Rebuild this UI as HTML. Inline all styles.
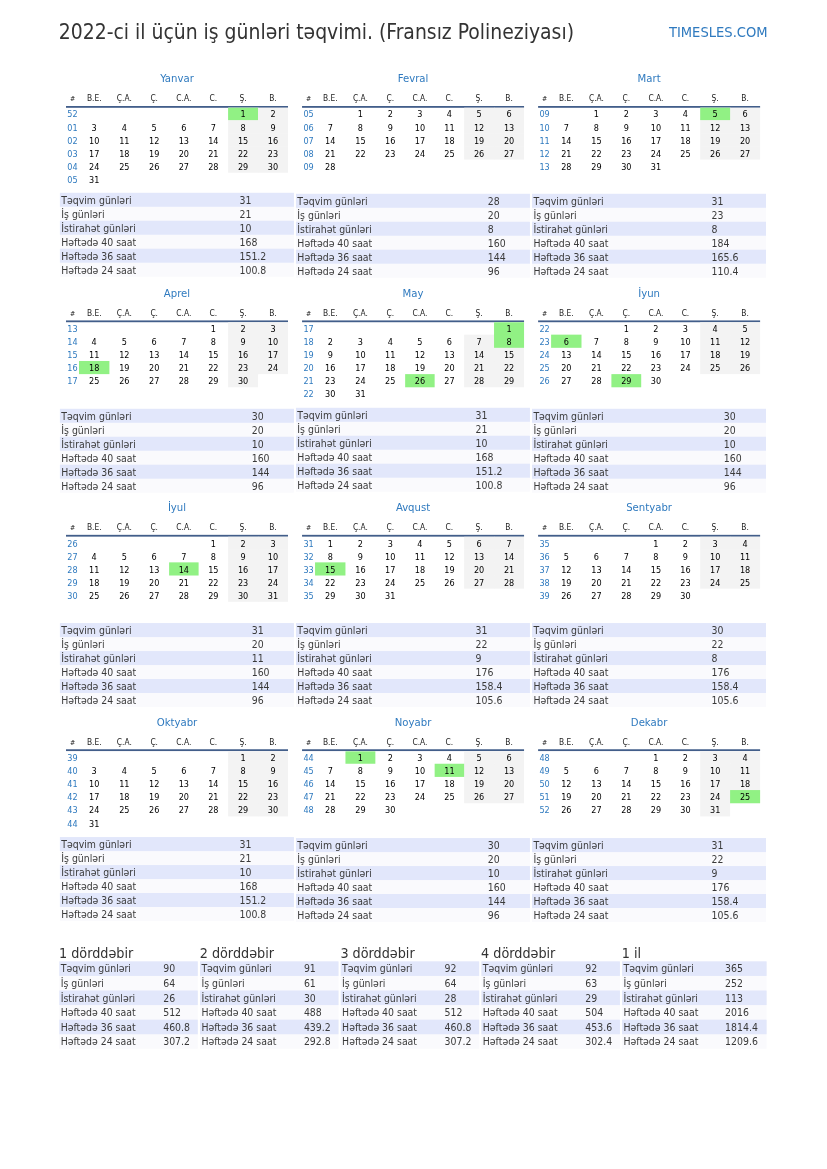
<!DOCTYPE html>
<html lang="az"><head><meta charset="utf-8"><title>2022-ci il üçün iş günləri təqvimi</title>
<style>
html,body{margin:0;padding:0;background:#fff}
body{width:827px;height:1169px;position:relative;overflow:hidden;font-family:"DejaVu Sans Condensed","DejaVu Sans","Liberation Sans",sans-serif;font-stretch:condensed;color:#000}
#pg{position:absolute;left:0;top:0;width:827px;height:1169px;will-change:transform}
svg{position:absolute;left:0;top:0}
.t{position:absolute;white-space:nowrap;height:20px;line-height:20px}
.c{text-align:center}
.title{font-size:20.93px;color:#333}
.brand{font-size:14.58px;color:#2f7abf}
.mt{font-size:11.25px;color:#2f7abf}
.hd{font-size:8.33px;color:#222}
.hs{font-size:6.94px;color:#222}
.wn{font-size:9.03px;color:#2f7abf}
.dn{font-size:9.03px;color:#000}
.st{font-size:10.42px;color:#3a3a3a}
.qh{font-size:14.24px;color:#333}
</style></head>
<body>
<div id="pg">
<svg width="827" height="1169" viewBox="0 0 827 1169"><rect x="66" y="106" width="222" height="1.8" fill="#425e8a"/><rect x="228.1" y="107.7" width="30.3" height="12.8" fill="#f3f3f3"/><rect x="258" y="107.7" width="30" height="12.8" fill="#f3f3f3"/><rect x="228.1" y="120.1" width="30.3" height="13.56" fill="#f3f3f3"/><rect x="258" y="120.1" width="30" height="13.56" fill="#f3f3f3"/><rect x="228.1" y="133.26" width="30.3" height="13.56" fill="#f3f3f3"/><rect x="258" y="133.26" width="30" height="13.56" fill="#f3f3f3"/><rect x="228.1" y="146.42" width="30.3" height="13.56" fill="#f3f3f3"/><rect x="258" y="146.42" width="30" height="13.56" fill="#f3f3f3"/><rect x="228.1" y="159.58" width="30.3" height="13.16" fill="#f3f3f3"/><rect x="258" y="159.58" width="30" height="13.16" fill="#f3f3f3"/><rect x="59.9" y="192.8" width="234" height="83.88" fill="#fafafd"/><rect x="59.9" y="192.8" width="234" height="13.98" fill="#e2e7fb"/><rect x="59.9" y="220.76" width="234" height="13.98" fill="#e2e7fb"/><rect x="59.9" y="248.72" width="234" height="13.98" fill="#e2e7fb"/><rect x="302.05" y="106" width="222" height="1.8" fill="#425e8a"/><rect x="464.15" y="107.7" width="30.3" height="12.8" fill="#f3f3f3"/><rect x="494.05" y="107.7" width="30" height="12.8" fill="#f3f3f3"/><rect x="464.15" y="120.1" width="30.3" height="13.56" fill="#f3f3f3"/><rect x="494.05" y="120.1" width="30" height="13.56" fill="#f3f3f3"/><rect x="464.15" y="133.26" width="30.3" height="13.56" fill="#f3f3f3"/><rect x="494.05" y="133.26" width="30" height="13.56" fill="#f3f3f3"/><rect x="464.15" y="146.42" width="30.3" height="13.16" fill="#f3f3f3"/><rect x="494.05" y="146.42" width="30" height="13.16" fill="#f3f3f3"/><rect x="295.95" y="193.8" width="234" height="83.88" fill="#fafafd"/><rect x="295.95" y="193.8" width="234" height="13.98" fill="#e2e7fb"/><rect x="295.95" y="221.76" width="234" height="13.98" fill="#e2e7fb"/><rect x="295.95" y="249.72" width="234" height="13.98" fill="#e2e7fb"/><rect x="538.1" y="106" width="222" height="1.8" fill="#425e8a"/><rect x="700.2" y="107.7" width="30.3" height="12.8" fill="#f3f3f3"/><rect x="730.1" y="107.7" width="30" height="12.8" fill="#f3f3f3"/><rect x="700.2" y="120.1" width="30.3" height="13.56" fill="#f3f3f3"/><rect x="730.1" y="120.1" width="30" height="13.56" fill="#f3f3f3"/><rect x="700.2" y="133.26" width="30.3" height="13.56" fill="#f3f3f3"/><rect x="730.1" y="133.26" width="30" height="13.56" fill="#f3f3f3"/><rect x="700.2" y="146.42" width="30.3" height="13.16" fill="#f3f3f3"/><rect x="730.1" y="146.42" width="30" height="13.16" fill="#f3f3f3"/><rect x="532" y="193.8" width="234" height="83.88" fill="#fafafd"/><rect x="532" y="193.8" width="234" height="13.98" fill="#e2e7fb"/><rect x="532" y="221.76" width="234" height="13.98" fill="#e2e7fb"/><rect x="532" y="249.72" width="234" height="13.98" fill="#e2e7fb"/><rect x="66" y="320.42" width="222" height="1.8" fill="#425e8a"/><rect x="228.1" y="322.25" width="30.3" height="12.8" fill="#f3f3f3"/><rect x="258" y="322.25" width="30" height="12.8" fill="#f3f3f3"/><rect x="228.1" y="334.65" width="30.3" height="13.56" fill="#f3f3f3"/><rect x="258" y="334.65" width="30" height="13.56" fill="#f3f3f3"/><rect x="228.1" y="347.81" width="30.3" height="13.56" fill="#f3f3f3"/><rect x="258" y="347.81" width="30" height="13.56" fill="#f3f3f3"/><rect x="228.1" y="360.97" width="30.3" height="13.56" fill="#f3f3f3"/><rect x="258" y="360.97" width="30" height="13.16" fill="#f3f3f3"/><rect x="228.1" y="374.13" width="29.9" height="13.16" fill="#f3f3f3"/><rect x="59.9" y="408.8" width="234" height="83.88" fill="#fafafd"/><rect x="59.9" y="408.8" width="234" height="13.98" fill="#e2e7fb"/><rect x="59.9" y="436.76" width="234" height="13.98" fill="#e2e7fb"/><rect x="59.9" y="464.72" width="234" height="13.98" fill="#e2e7fb"/><rect x="302.05" y="320.42" width="222" height="1.8" fill="#425e8a"/><rect x="494.05" y="322.25" width="30" height="12.8" fill="#f3f3f3"/><rect x="464.15" y="334.65" width="30.3" height="13.56" fill="#f3f3f3"/><rect x="494.05" y="334.65" width="30" height="13.56" fill="#f3f3f3"/><rect x="464.15" y="347.81" width="30.3" height="13.56" fill="#f3f3f3"/><rect x="494.05" y="347.81" width="30" height="13.56" fill="#f3f3f3"/><rect x="464.15" y="360.97" width="30.3" height="13.56" fill="#f3f3f3"/><rect x="494.05" y="360.97" width="30" height="13.56" fill="#f3f3f3"/><rect x="464.15" y="374.13" width="30.3" height="13.16" fill="#f3f3f3"/><rect x="494.05" y="374.13" width="30" height="13.16" fill="#f3f3f3"/><rect x="295.95" y="407.8" width="234" height="83.88" fill="#fafafd"/><rect x="295.95" y="407.8" width="234" height="13.98" fill="#e2e7fb"/><rect x="295.95" y="435.76" width="234" height="13.98" fill="#e2e7fb"/><rect x="295.95" y="463.72" width="234" height="13.98" fill="#e2e7fb"/><rect x="538.1" y="320.42" width="222" height="1.8" fill="#425e8a"/><rect x="700.2" y="322.25" width="30.3" height="12.8" fill="#f3f3f3"/><rect x="730.1" y="322.25" width="30" height="12.8" fill="#f3f3f3"/><rect x="700.2" y="334.65" width="30.3" height="13.56" fill="#f3f3f3"/><rect x="730.1" y="334.65" width="30" height="13.56" fill="#f3f3f3"/><rect x="700.2" y="347.81" width="30.3" height="13.56" fill="#f3f3f3"/><rect x="730.1" y="347.81" width="30" height="13.56" fill="#f3f3f3"/><rect x="700.2" y="360.97" width="30.3" height="13.16" fill="#f3f3f3"/><rect x="730.1" y="360.97" width="30" height="13.16" fill="#f3f3f3"/><rect x="532" y="408.8" width="234" height="83.88" fill="#fafafd"/><rect x="532" y="408.8" width="234" height="13.98" fill="#e2e7fb"/><rect x="532" y="436.76" width="234" height="13.98" fill="#e2e7fb"/><rect x="532" y="464.72" width="234" height="13.98" fill="#e2e7fb"/><rect x="66" y="534.84" width="222" height="1.8" fill="#425e8a"/><rect x="228.1" y="536.8" width="30.3" height="12.8" fill="#f3f3f3"/><rect x="258" y="536.8" width="30" height="12.8" fill="#f3f3f3"/><rect x="228.1" y="549.2" width="30.3" height="13.56" fill="#f3f3f3"/><rect x="258" y="549.2" width="30" height="13.56" fill="#f3f3f3"/><rect x="228.1" y="562.36" width="30.3" height="13.56" fill="#f3f3f3"/><rect x="258" y="562.36" width="30" height="13.56" fill="#f3f3f3"/><rect x="228.1" y="575.52" width="30.3" height="13.56" fill="#f3f3f3"/><rect x="258" y="575.52" width="30" height="13.56" fill="#f3f3f3"/><rect x="228.1" y="588.68" width="30.3" height="13.16" fill="#f3f3f3"/><rect x="258" y="588.68" width="30" height="13.16" fill="#f3f3f3"/><rect x="59.9" y="623.1" width="234" height="83.88" fill="#fafafd"/><rect x="59.9" y="623.1" width="234" height="13.98" fill="#e2e7fb"/><rect x="59.9" y="651.06" width="234" height="13.98" fill="#e2e7fb"/><rect x="59.9" y="679.02" width="234" height="13.98" fill="#e2e7fb"/><rect x="302.05" y="534.84" width="222" height="1.8" fill="#425e8a"/><rect x="464.15" y="536.8" width="30.3" height="12.8" fill="#f3f3f3"/><rect x="494.05" y="536.8" width="30" height="12.8" fill="#f3f3f3"/><rect x="464.15" y="549.2" width="30.3" height="13.56" fill="#f3f3f3"/><rect x="494.05" y="549.2" width="30" height="13.56" fill="#f3f3f3"/><rect x="464.15" y="562.36" width="30.3" height="13.56" fill="#f3f3f3"/><rect x="494.05" y="562.36" width="30" height="13.56" fill="#f3f3f3"/><rect x="464.15" y="575.52" width="30.3" height="13.16" fill="#f3f3f3"/><rect x="494.05" y="575.52" width="30" height="13.16" fill="#f3f3f3"/><rect x="295.95" y="623.1" width="234" height="83.88" fill="#fafafd"/><rect x="295.95" y="623.1" width="234" height="13.98" fill="#e2e7fb"/><rect x="295.95" y="651.06" width="234" height="13.98" fill="#e2e7fb"/><rect x="295.95" y="679.02" width="234" height="13.98" fill="#e2e7fb"/><rect x="538.1" y="534.84" width="222" height="1.8" fill="#425e8a"/><rect x="700.2" y="536.8" width="30.3" height="12.8" fill="#f3f3f3"/><rect x="730.1" y="536.8" width="30" height="12.8" fill="#f3f3f3"/><rect x="700.2" y="549.2" width="30.3" height="13.56" fill="#f3f3f3"/><rect x="730.1" y="549.2" width="30" height="13.56" fill="#f3f3f3"/><rect x="700.2" y="562.36" width="30.3" height="13.56" fill="#f3f3f3"/><rect x="730.1" y="562.36" width="30" height="13.56" fill="#f3f3f3"/><rect x="700.2" y="575.52" width="30.3" height="13.16" fill="#f3f3f3"/><rect x="730.1" y="575.52" width="30" height="13.16" fill="#f3f3f3"/><rect x="532" y="623.1" width="234" height="83.88" fill="#fafafd"/><rect x="532" y="623.1" width="234" height="13.98" fill="#e2e7fb"/><rect x="532" y="651.06" width="234" height="13.98" fill="#e2e7fb"/><rect x="532" y="679.02" width="234" height="13.98" fill="#e2e7fb"/><rect x="66" y="749.26" width="222" height="1.8" fill="#425e8a"/><rect x="228.1" y="751.35" width="30.3" height="12.8" fill="#f3f3f3"/><rect x="258" y="751.35" width="30" height="12.8" fill="#f3f3f3"/><rect x="228.1" y="763.75" width="30.3" height="13.56" fill="#f3f3f3"/><rect x="258" y="763.75" width="30" height="13.56" fill="#f3f3f3"/><rect x="228.1" y="776.91" width="30.3" height="13.56" fill="#f3f3f3"/><rect x="258" y="776.91" width="30" height="13.56" fill="#f3f3f3"/><rect x="228.1" y="790.07" width="30.3" height="13.56" fill="#f3f3f3"/><rect x="258" y="790.07" width="30" height="13.56" fill="#f3f3f3"/><rect x="228.1" y="803.23" width="30.3" height="13.16" fill="#f3f3f3"/><rect x="258" y="803.23" width="30" height="13.16" fill="#f3f3f3"/><rect x="59.9" y="837.1" width="234" height="83.88" fill="#fafafd"/><rect x="59.9" y="837.1" width="234" height="13.98" fill="#e2e7fb"/><rect x="59.9" y="865.06" width="234" height="13.98" fill="#e2e7fb"/><rect x="59.9" y="893.02" width="234" height="13.98" fill="#e2e7fb"/><rect x="302.05" y="749.26" width="222" height="1.8" fill="#425e8a"/><rect x="464.15" y="751.35" width="30.3" height="12.8" fill="#f3f3f3"/><rect x="494.05" y="751.35" width="30" height="12.8" fill="#f3f3f3"/><rect x="464.15" y="763.75" width="30.3" height="13.56" fill="#f3f3f3"/><rect x="494.05" y="763.75" width="30" height="13.56" fill="#f3f3f3"/><rect x="464.15" y="776.91" width="30.3" height="13.56" fill="#f3f3f3"/><rect x="494.05" y="776.91" width="30" height="13.56" fill="#f3f3f3"/><rect x="464.15" y="790.07" width="30.3" height="13.16" fill="#f3f3f3"/><rect x="494.05" y="790.07" width="30" height="13.16" fill="#f3f3f3"/><rect x="295.95" y="838.1" width="234" height="83.88" fill="#fafafd"/><rect x="295.95" y="838.1" width="234" height="13.98" fill="#e2e7fb"/><rect x="295.95" y="866.06" width="234" height="13.98" fill="#e2e7fb"/><rect x="295.95" y="894.02" width="234" height="13.98" fill="#e2e7fb"/><rect x="538.1" y="749.26" width="222" height="1.8" fill="#425e8a"/><rect x="700.2" y="751.35" width="30.3" height="12.8" fill="#f3f3f3"/><rect x="730.1" y="751.35" width="30" height="12.8" fill="#f3f3f3"/><rect x="700.2" y="763.75" width="30.3" height="13.56" fill="#f3f3f3"/><rect x="730.1" y="763.75" width="30" height="13.56" fill="#f3f3f3"/><rect x="700.2" y="776.91" width="30.3" height="13.56" fill="#f3f3f3"/><rect x="730.1" y="776.91" width="30" height="13.56" fill="#f3f3f3"/><rect x="700.2" y="790.07" width="30.3" height="13.56" fill="#f3f3f3"/><rect x="730.1" y="790.07" width="30" height="13.16" fill="#f3f3f3"/><rect x="700.2" y="803.23" width="29.9" height="13.16" fill="#f3f3f3"/><rect x="532" y="838.1" width="234" height="83.88" fill="#fafafd"/><rect x="532" y="838.1" width="234" height="13.98" fill="#e2e7fb"/><rect x="532" y="866.06" width="234" height="13.98" fill="#e2e7fb"/><rect x="532" y="894.02" width="234" height="13.98" fill="#e2e7fb"/><rect x="228.1" y="107.7" width="29.9" height="12.4" fill="#91f184"/><rect x="700.2" y="107.7" width="29.9" height="12.4" fill="#91f184"/><rect x="79" y="360.97" width="30.4" height="13.16" fill="#91f184"/><rect x="494.05" y="322.25" width="30" height="12.8" fill="#91f184"/><rect x="494.05" y="334.65" width="30" height="13.16" fill="#91f184"/><rect x="405.15" y="374.13" width="29.5" height="13.16" fill="#91f184"/><rect x="551.1" y="334.65" width="30.4" height="13.16" fill="#91f184"/><rect x="611.4" y="374.13" width="29.8" height="13.16" fill="#91f184"/><rect x="169.1" y="562.36" width="29.5" height="13.16" fill="#91f184"/><rect x="315.05" y="562.36" width="30.4" height="13.16" fill="#91f184"/><rect x="345.45" y="751.35" width="29.9" height="12.4" fill="#91f184"/><rect x="434.65" y="763.75" width="29.5" height="13.16" fill="#91f184"/><rect x="730.1" y="790.07" width="30" height="13.16" fill="#91f184"/><rect x="59.3" y="961.35" width="138.5" height="87.48" fill="#fafafd"/><rect x="59.3" y="961.35" width="138.5" height="14.58" fill="#e2e7fb"/><rect x="59.3" y="990.51" width="138.5" height="14.58" fill="#e2e7fb"/><rect x="59.3" y="1019.67" width="138.5" height="14.58" fill="#e2e7fb"/><rect x="200" y="961.35" width="138.5" height="87.48" fill="#fafafd"/><rect x="200" y="961.35" width="138.5" height="14.58" fill="#e2e7fb"/><rect x="200" y="990.51" width="138.5" height="14.58" fill="#e2e7fb"/><rect x="200" y="1019.67" width="138.5" height="14.58" fill="#e2e7fb"/><rect x="340.7" y="961.35" width="138.5" height="87.48" fill="#fafafd"/><rect x="340.7" y="961.35" width="138.5" height="14.58" fill="#e2e7fb"/><rect x="340.7" y="990.51" width="138.5" height="14.58" fill="#e2e7fb"/><rect x="340.7" y="1019.67" width="138.5" height="14.58" fill="#e2e7fb"/><rect x="481.4" y="961.35" width="138.5" height="87.48" fill="#fafafd"/><rect x="481.4" y="961.35" width="138.5" height="14.58" fill="#e2e7fb"/><rect x="481.4" y="990.51" width="138.5" height="14.58" fill="#e2e7fb"/><rect x="481.4" y="1019.67" width="138.5" height="14.58" fill="#e2e7fb"/><rect x="622.1" y="961.35" width="144.5" height="87.48" fill="#fafafd"/><rect x="622.1" y="961.35" width="144.5" height="14.58" fill="#e2e7fb"/><rect x="622.1" y="990.51" width="144.5" height="14.58" fill="#e2e7fb"/><rect x="622.1" y="1019.67" width="144.5" height="14.58" fill="#e2e7fb"/></svg>
<div class="t title" style="left:58.8px;top:22px">2022-ci il üçün iş günləri təqvimi. (Fransız Polineziyası)</div>
<div class="t brand" style="right:59.4px;top:22px">TIMESLES.COM</div>
<div class="t c mt" style="left:66px;top:69px;width:222px">Yanvar</div>
<div class="t c hs" style="left:66px;top:89px;width:13px">#</div>
<div class="t c hd" style="left:79px;top:88px;width:30.4px">B.E.</div>
<div class="t c hd" style="left:109.4px;top:88px;width:29.9px">Ç.A.</div>
<div class="t c hd" style="left:139.3px;top:88px;width:29.8px">Ç.</div>
<div class="t c hd" style="left:169.1px;top:88px;width:29.5px">C.A.</div>
<div class="t c hd" style="left:198.6px;top:88px;width:29.5px">C.</div>
<div class="t c hd" style="left:228.1px;top:88px;width:29.9px">Ş.</div>
<div class="t c hd" style="left:258px;top:88px;width:30px">B.</div>
<div class="t c wn" style="left:66px;top:104px;width:13px">52</div>
<div class="t c dn" style="left:228.1px;top:104px;width:29.9px">1</div>
<div class="t c dn" style="left:258px;top:104px;width:30px">2</div>
<div class="t c wn" style="left:66px;top:118px;width:13px">01</div>
<div class="t c dn" style="left:79px;top:118px;width:30.4px">3</div>
<div class="t c dn" style="left:109.4px;top:118px;width:29.9px">4</div>
<div class="t c dn" style="left:139.3px;top:118px;width:29.8px">5</div>
<div class="t c dn" style="left:169.1px;top:118px;width:29.5px">6</div>
<div class="t c dn" style="left:198.6px;top:118px;width:29.5px">7</div>
<div class="t c dn" style="left:228.1px;top:118px;width:29.9px">8</div>
<div class="t c dn" style="left:258px;top:118px;width:30px">9</div>
<div class="t c wn" style="left:66px;top:131px;width:13px">02</div>
<div class="t c dn" style="left:79px;top:131px;width:30.4px">10</div>
<div class="t c dn" style="left:109.4px;top:131px;width:29.9px">11</div>
<div class="t c dn" style="left:139.3px;top:131px;width:29.8px">12</div>
<div class="t c dn" style="left:169.1px;top:131px;width:29.5px">13</div>
<div class="t c dn" style="left:198.6px;top:131px;width:29.5px">14</div>
<div class="t c dn" style="left:228.1px;top:131px;width:29.9px">15</div>
<div class="t c dn" style="left:258px;top:131px;width:30px">16</div>
<div class="t c wn" style="left:66px;top:144px;width:13px">03</div>
<div class="t c dn" style="left:79px;top:144px;width:30.4px">17</div>
<div class="t c dn" style="left:109.4px;top:144px;width:29.9px">18</div>
<div class="t c dn" style="left:139.3px;top:144px;width:29.8px">19</div>
<div class="t c dn" style="left:169.1px;top:144px;width:29.5px">20</div>
<div class="t c dn" style="left:198.6px;top:144px;width:29.5px">21</div>
<div class="t c dn" style="left:228.1px;top:144px;width:29.9px">22</div>
<div class="t c dn" style="left:258px;top:144px;width:30px">23</div>
<div class="t c wn" style="left:66px;top:157px;width:13px">04</div>
<div class="t c dn" style="left:79px;top:157px;width:30.4px">24</div>
<div class="t c dn" style="left:109.4px;top:157px;width:29.9px">25</div>
<div class="t c dn" style="left:139.3px;top:157px;width:29.8px">26</div>
<div class="t c dn" style="left:169.1px;top:157px;width:29.5px">27</div>
<div class="t c dn" style="left:198.6px;top:157px;width:29.5px">28</div>
<div class="t c dn" style="left:228.1px;top:157px;width:29.9px">29</div>
<div class="t c dn" style="left:258px;top:157px;width:30px">30</div>
<div class="t c wn" style="left:66px;top:170px;width:13px">05</div>
<div class="t c dn" style="left:79px;top:170px;width:30.4px">31</div>
<div class="t st" style="left:61.3px;top:190px">Təqvim günləri</div>
<div class="t st" style="left:239.5px;top:190px">31</div>
<div class="t st" style="left:61.3px;top:204px">İş günləri</div>
<div class="t st" style="left:239.5px;top:204px">21</div>
<div class="t st" style="left:61.3px;top:218px">İstirahət günləri</div>
<div class="t st" style="left:239.5px;top:218px">10</div>
<div class="t st" style="left:61.3px;top:232px">Həftədə 40 saat</div>
<div class="t st" style="left:239.5px;top:232px">168</div>
<div class="t st" style="left:61.3px;top:246px">Həftədə 36 saat</div>
<div class="t st" style="left:239.5px;top:246px">151.2</div>
<div class="t st" style="left:61.3px;top:260px">Həftədə 24 saat</div>
<div class="t st" style="left:239.5px;top:260px">100.8</div>
<div class="t c mt" style="left:302.05px;top:69px;width:222px">Fevral</div>
<div class="t c hs" style="left:302.05px;top:89px;width:13px">#</div>
<div class="t c hd" style="left:315.05px;top:88px;width:30.4px">B.E.</div>
<div class="t c hd" style="left:345.45px;top:88px;width:29.9px">Ç.A.</div>
<div class="t c hd" style="left:375.35px;top:88px;width:29.8px">Ç.</div>
<div class="t c hd" style="left:405.15px;top:88px;width:29.5px">C.A.</div>
<div class="t c hd" style="left:434.65px;top:88px;width:29.5px">C.</div>
<div class="t c hd" style="left:464.15px;top:88px;width:29.9px">Ş.</div>
<div class="t c hd" style="left:494.05px;top:88px;width:30px">B.</div>
<div class="t c wn" style="left:302.05px;top:104px;width:13px">05</div>
<div class="t c dn" style="left:345.45px;top:104px;width:29.9px">1</div>
<div class="t c dn" style="left:375.35px;top:104px;width:29.8px">2</div>
<div class="t c dn" style="left:405.15px;top:104px;width:29.5px">3</div>
<div class="t c dn" style="left:434.65px;top:104px;width:29.5px">4</div>
<div class="t c dn" style="left:464.15px;top:104px;width:29.9px">5</div>
<div class="t c dn" style="left:494.05px;top:104px;width:30px">6</div>
<div class="t c wn" style="left:302.05px;top:118px;width:13px">06</div>
<div class="t c dn" style="left:315.05px;top:118px;width:30.4px">7</div>
<div class="t c dn" style="left:345.45px;top:118px;width:29.9px">8</div>
<div class="t c dn" style="left:375.35px;top:118px;width:29.8px">9</div>
<div class="t c dn" style="left:405.15px;top:118px;width:29.5px">10</div>
<div class="t c dn" style="left:434.65px;top:118px;width:29.5px">11</div>
<div class="t c dn" style="left:464.15px;top:118px;width:29.9px">12</div>
<div class="t c dn" style="left:494.05px;top:118px;width:30px">13</div>
<div class="t c wn" style="left:302.05px;top:131px;width:13px">07</div>
<div class="t c dn" style="left:315.05px;top:131px;width:30.4px">14</div>
<div class="t c dn" style="left:345.45px;top:131px;width:29.9px">15</div>
<div class="t c dn" style="left:375.35px;top:131px;width:29.8px">16</div>
<div class="t c dn" style="left:405.15px;top:131px;width:29.5px">17</div>
<div class="t c dn" style="left:434.65px;top:131px;width:29.5px">18</div>
<div class="t c dn" style="left:464.15px;top:131px;width:29.9px">19</div>
<div class="t c dn" style="left:494.05px;top:131px;width:30px">20</div>
<div class="t c wn" style="left:302.05px;top:144px;width:13px">08</div>
<div class="t c dn" style="left:315.05px;top:144px;width:30.4px">21</div>
<div class="t c dn" style="left:345.45px;top:144px;width:29.9px">22</div>
<div class="t c dn" style="left:375.35px;top:144px;width:29.8px">23</div>
<div class="t c dn" style="left:405.15px;top:144px;width:29.5px">24</div>
<div class="t c dn" style="left:434.65px;top:144px;width:29.5px">25</div>
<div class="t c dn" style="left:464.15px;top:144px;width:29.9px">26</div>
<div class="t c dn" style="left:494.05px;top:144px;width:30px">27</div>
<div class="t c wn" style="left:302.05px;top:157px;width:13px">09</div>
<div class="t c dn" style="left:315.05px;top:157px;width:30.4px">28</div>
<div class="t st" style="left:297.35px;top:191px">Təqvim günləri</div>
<div class="t st" style="left:487.75px;top:191px">28</div>
<div class="t st" style="left:297.35px;top:205px">İş günləri</div>
<div class="t st" style="left:487.75px;top:205px">20</div>
<div class="t st" style="left:297.35px;top:219px">İstirahət günləri</div>
<div class="t st" style="left:487.75px;top:219px">8</div>
<div class="t st" style="left:297.35px;top:233px">Həftədə 40 saat</div>
<div class="t st" style="left:487.75px;top:233px">160</div>
<div class="t st" style="left:297.35px;top:247px">Həftədə 36 saat</div>
<div class="t st" style="left:487.75px;top:247px">144</div>
<div class="t st" style="left:297.35px;top:261px">Həftədə 24 saat</div>
<div class="t st" style="left:487.75px;top:261px">96</div>
<div class="t c mt" style="left:538.1px;top:69px;width:222px">Mart</div>
<div class="t c hs" style="left:538.1px;top:89px;width:13px">#</div>
<div class="t c hd" style="left:551.1px;top:88px;width:30.4px">B.E.</div>
<div class="t c hd" style="left:581.5px;top:88px;width:29.9px">Ç.A.</div>
<div class="t c hd" style="left:611.4px;top:88px;width:29.8px">Ç.</div>
<div class="t c hd" style="left:641.2px;top:88px;width:29.5px">C.A.</div>
<div class="t c hd" style="left:670.7px;top:88px;width:29.5px">C.</div>
<div class="t c hd" style="left:700.2px;top:88px;width:29.9px">Ş.</div>
<div class="t c hd" style="left:730.1px;top:88px;width:30px">B.</div>
<div class="t c wn" style="left:538.1px;top:104px;width:13px">09</div>
<div class="t c dn" style="left:581.5px;top:104px;width:29.9px">1</div>
<div class="t c dn" style="left:611.4px;top:104px;width:29.8px">2</div>
<div class="t c dn" style="left:641.2px;top:104px;width:29.5px">3</div>
<div class="t c dn" style="left:670.7px;top:104px;width:29.5px">4</div>
<div class="t c dn" style="left:700.2px;top:104px;width:29.9px">5</div>
<div class="t c dn" style="left:730.1px;top:104px;width:30px">6</div>
<div class="t c wn" style="left:538.1px;top:118px;width:13px">10</div>
<div class="t c dn" style="left:551.1px;top:118px;width:30.4px">7</div>
<div class="t c dn" style="left:581.5px;top:118px;width:29.9px">8</div>
<div class="t c dn" style="left:611.4px;top:118px;width:29.8px">9</div>
<div class="t c dn" style="left:641.2px;top:118px;width:29.5px">10</div>
<div class="t c dn" style="left:670.7px;top:118px;width:29.5px">11</div>
<div class="t c dn" style="left:700.2px;top:118px;width:29.9px">12</div>
<div class="t c dn" style="left:730.1px;top:118px;width:30px">13</div>
<div class="t c wn" style="left:538.1px;top:131px;width:13px">11</div>
<div class="t c dn" style="left:551.1px;top:131px;width:30.4px">14</div>
<div class="t c dn" style="left:581.5px;top:131px;width:29.9px">15</div>
<div class="t c dn" style="left:611.4px;top:131px;width:29.8px">16</div>
<div class="t c dn" style="left:641.2px;top:131px;width:29.5px">17</div>
<div class="t c dn" style="left:670.7px;top:131px;width:29.5px">18</div>
<div class="t c dn" style="left:700.2px;top:131px;width:29.9px">19</div>
<div class="t c dn" style="left:730.1px;top:131px;width:30px">20</div>
<div class="t c wn" style="left:538.1px;top:144px;width:13px">12</div>
<div class="t c dn" style="left:551.1px;top:144px;width:30.4px">21</div>
<div class="t c dn" style="left:581.5px;top:144px;width:29.9px">22</div>
<div class="t c dn" style="left:611.4px;top:144px;width:29.8px">23</div>
<div class="t c dn" style="left:641.2px;top:144px;width:29.5px">24</div>
<div class="t c dn" style="left:670.7px;top:144px;width:29.5px">25</div>
<div class="t c dn" style="left:700.2px;top:144px;width:29.9px">26</div>
<div class="t c dn" style="left:730.1px;top:144px;width:30px">27</div>
<div class="t c wn" style="left:538.1px;top:157px;width:13px">13</div>
<div class="t c dn" style="left:551.1px;top:157px;width:30.4px">28</div>
<div class="t c dn" style="left:581.5px;top:157px;width:29.9px">29</div>
<div class="t c dn" style="left:611.4px;top:157px;width:29.8px">30</div>
<div class="t c dn" style="left:641.2px;top:157px;width:29.5px">31</div>
<div class="t st" style="left:533.4px;top:191px">Təqvim günləri</div>
<div class="t st" style="left:711.6px;top:191px">31</div>
<div class="t st" style="left:533.4px;top:205px">İş günləri</div>
<div class="t st" style="left:711.6px;top:205px">23</div>
<div class="t st" style="left:533.4px;top:219px">İstirahət günləri</div>
<div class="t st" style="left:711.6px;top:219px">8</div>
<div class="t st" style="left:533.4px;top:233px">Həftədə 40 saat</div>
<div class="t st" style="left:711.6px;top:233px">184</div>
<div class="t st" style="left:533.4px;top:247px">Həftədə 36 saat</div>
<div class="t st" style="left:711.6px;top:247px">165.6</div>
<div class="t st" style="left:533.4px;top:261px">Həftədə 24 saat</div>
<div class="t st" style="left:711.6px;top:261px">110.4</div>
<div class="t c mt" style="left:66px;top:284px;width:222px">Aprel</div>
<div class="t c hs" style="left:66px;top:304px;width:13px">#</div>
<div class="t c hd" style="left:79px;top:303px;width:30.4px">B.E.</div>
<div class="t c hd" style="left:109.4px;top:303px;width:29.9px">Ç.A.</div>
<div class="t c hd" style="left:139.3px;top:303px;width:29.8px">Ç.</div>
<div class="t c hd" style="left:169.1px;top:303px;width:29.5px">C.A.</div>
<div class="t c hd" style="left:198.6px;top:303px;width:29.5px">C.</div>
<div class="t c hd" style="left:228.1px;top:303px;width:29.9px">Ş.</div>
<div class="t c hd" style="left:258px;top:303px;width:30px">B.</div>
<div class="t c wn" style="left:66px;top:319px;width:13px">13</div>
<div class="t c dn" style="left:198.6px;top:319px;width:29.5px">1</div>
<div class="t c dn" style="left:228.1px;top:319px;width:29.9px">2</div>
<div class="t c dn" style="left:258px;top:319px;width:30px">3</div>
<div class="t c wn" style="left:66px;top:332px;width:13px">14</div>
<div class="t c dn" style="left:79px;top:332px;width:30.4px">4</div>
<div class="t c dn" style="left:109.4px;top:332px;width:29.9px">5</div>
<div class="t c dn" style="left:139.3px;top:332px;width:29.8px">6</div>
<div class="t c dn" style="left:169.1px;top:332px;width:29.5px">7</div>
<div class="t c dn" style="left:198.6px;top:332px;width:29.5px">8</div>
<div class="t c dn" style="left:228.1px;top:332px;width:29.9px">9</div>
<div class="t c dn" style="left:258px;top:332px;width:30px">10</div>
<div class="t c wn" style="left:66px;top:345px;width:13px">15</div>
<div class="t c dn" style="left:79px;top:345px;width:30.4px">11</div>
<div class="t c dn" style="left:109.4px;top:345px;width:29.9px">12</div>
<div class="t c dn" style="left:139.3px;top:345px;width:29.8px">13</div>
<div class="t c dn" style="left:169.1px;top:345px;width:29.5px">14</div>
<div class="t c dn" style="left:198.6px;top:345px;width:29.5px">15</div>
<div class="t c dn" style="left:228.1px;top:345px;width:29.9px">16</div>
<div class="t c dn" style="left:258px;top:345px;width:30px">17</div>
<div class="t c wn" style="left:66px;top:358px;width:13px">16</div>
<div class="t c dn" style="left:79px;top:358px;width:30.4px">18</div>
<div class="t c dn" style="left:109.4px;top:358px;width:29.9px">19</div>
<div class="t c dn" style="left:139.3px;top:358px;width:29.8px">20</div>
<div class="t c dn" style="left:169.1px;top:358px;width:29.5px">21</div>
<div class="t c dn" style="left:198.6px;top:358px;width:29.5px">22</div>
<div class="t c dn" style="left:228.1px;top:358px;width:29.9px">23</div>
<div class="t c dn" style="left:258px;top:358px;width:30px">24</div>
<div class="t c wn" style="left:66px;top:371px;width:13px">17</div>
<div class="t c dn" style="left:79px;top:371px;width:30.4px">25</div>
<div class="t c dn" style="left:109.4px;top:371px;width:29.9px">26</div>
<div class="t c dn" style="left:139.3px;top:371px;width:29.8px">27</div>
<div class="t c dn" style="left:169.1px;top:371px;width:29.5px">28</div>
<div class="t c dn" style="left:198.6px;top:371px;width:29.5px">29</div>
<div class="t c dn" style="left:228.1px;top:371px;width:29.9px">30</div>
<div class="t st" style="left:61.3px;top:406px">Təqvim günləri</div>
<div class="t st" style="left:251.7px;top:406px">30</div>
<div class="t st" style="left:61.3px;top:420px">İş günləri</div>
<div class="t st" style="left:251.7px;top:420px">20</div>
<div class="t st" style="left:61.3px;top:434px">İstirahət günləri</div>
<div class="t st" style="left:251.7px;top:434px">10</div>
<div class="t st" style="left:61.3px;top:448px">Həftədə 40 saat</div>
<div class="t st" style="left:251.7px;top:448px">160</div>
<div class="t st" style="left:61.3px;top:462px">Həftədə 36 saat</div>
<div class="t st" style="left:251.7px;top:462px">144</div>
<div class="t st" style="left:61.3px;top:476px">Həftədə 24 saat</div>
<div class="t st" style="left:251.7px;top:476px">96</div>
<div class="t c mt" style="left:302.05px;top:284px;width:222px">May</div>
<div class="t c hs" style="left:302.05px;top:304px;width:13px">#</div>
<div class="t c hd" style="left:315.05px;top:303px;width:30.4px">B.E.</div>
<div class="t c hd" style="left:345.45px;top:303px;width:29.9px">Ç.A.</div>
<div class="t c hd" style="left:375.35px;top:303px;width:29.8px">Ç.</div>
<div class="t c hd" style="left:405.15px;top:303px;width:29.5px">C.A.</div>
<div class="t c hd" style="left:434.65px;top:303px;width:29.5px">C.</div>
<div class="t c hd" style="left:464.15px;top:303px;width:29.9px">Ş.</div>
<div class="t c hd" style="left:494.05px;top:303px;width:30px">B.</div>
<div class="t c wn" style="left:302.05px;top:319px;width:13px">17</div>
<div class="t c dn" style="left:494.05px;top:319px;width:30px">1</div>
<div class="t c wn" style="left:302.05px;top:332px;width:13px">18</div>
<div class="t c dn" style="left:315.05px;top:332px;width:30.4px">2</div>
<div class="t c dn" style="left:345.45px;top:332px;width:29.9px">3</div>
<div class="t c dn" style="left:375.35px;top:332px;width:29.8px">4</div>
<div class="t c dn" style="left:405.15px;top:332px;width:29.5px">5</div>
<div class="t c dn" style="left:434.65px;top:332px;width:29.5px">6</div>
<div class="t c dn" style="left:464.15px;top:332px;width:29.9px">7</div>
<div class="t c dn" style="left:494.05px;top:332px;width:30px">8</div>
<div class="t c wn" style="left:302.05px;top:345px;width:13px">19</div>
<div class="t c dn" style="left:315.05px;top:345px;width:30.4px">9</div>
<div class="t c dn" style="left:345.45px;top:345px;width:29.9px">10</div>
<div class="t c dn" style="left:375.35px;top:345px;width:29.8px">11</div>
<div class="t c dn" style="left:405.15px;top:345px;width:29.5px">12</div>
<div class="t c dn" style="left:434.65px;top:345px;width:29.5px">13</div>
<div class="t c dn" style="left:464.15px;top:345px;width:29.9px">14</div>
<div class="t c dn" style="left:494.05px;top:345px;width:30px">15</div>
<div class="t c wn" style="left:302.05px;top:358px;width:13px">20</div>
<div class="t c dn" style="left:315.05px;top:358px;width:30.4px">16</div>
<div class="t c dn" style="left:345.45px;top:358px;width:29.9px">17</div>
<div class="t c dn" style="left:375.35px;top:358px;width:29.8px">18</div>
<div class="t c dn" style="left:405.15px;top:358px;width:29.5px">19</div>
<div class="t c dn" style="left:434.65px;top:358px;width:29.5px">20</div>
<div class="t c dn" style="left:464.15px;top:358px;width:29.9px">21</div>
<div class="t c dn" style="left:494.05px;top:358px;width:30px">22</div>
<div class="t c wn" style="left:302.05px;top:371px;width:13px">21</div>
<div class="t c dn" style="left:315.05px;top:371px;width:30.4px">23</div>
<div class="t c dn" style="left:345.45px;top:371px;width:29.9px">24</div>
<div class="t c dn" style="left:375.35px;top:371px;width:29.8px">25</div>
<div class="t c dn" style="left:405.15px;top:371px;width:29.5px">26</div>
<div class="t c dn" style="left:434.65px;top:371px;width:29.5px">27</div>
<div class="t c dn" style="left:464.15px;top:371px;width:29.9px">28</div>
<div class="t c dn" style="left:494.05px;top:371px;width:30px">29</div>
<div class="t c wn" style="left:302.05px;top:384px;width:13px">22</div>
<div class="t c dn" style="left:315.05px;top:384px;width:30.4px">30</div>
<div class="t c dn" style="left:345.45px;top:384px;width:29.9px">31</div>
<div class="t st" style="left:297.35px;top:405px">Təqvim günləri</div>
<div class="t st" style="left:475.55px;top:405px">31</div>
<div class="t st" style="left:297.35px;top:419px">İş günləri</div>
<div class="t st" style="left:475.55px;top:419px">21</div>
<div class="t st" style="left:297.35px;top:433px">İstirahət günləri</div>
<div class="t st" style="left:475.55px;top:433px">10</div>
<div class="t st" style="left:297.35px;top:447px">Həftədə 40 saat</div>
<div class="t st" style="left:475.55px;top:447px">168</div>
<div class="t st" style="left:297.35px;top:461px">Həftədə 36 saat</div>
<div class="t st" style="left:475.55px;top:461px">151.2</div>
<div class="t st" style="left:297.35px;top:475px">Həftədə 24 saat</div>
<div class="t st" style="left:475.55px;top:475px">100.8</div>
<div class="t c mt" style="left:538.1px;top:284px;width:222px">İyun</div>
<div class="t c hs" style="left:538.1px;top:304px;width:13px">#</div>
<div class="t c hd" style="left:551.1px;top:303px;width:30.4px">B.E.</div>
<div class="t c hd" style="left:581.5px;top:303px;width:29.9px">Ç.A.</div>
<div class="t c hd" style="left:611.4px;top:303px;width:29.8px">Ç.</div>
<div class="t c hd" style="left:641.2px;top:303px;width:29.5px">C.A.</div>
<div class="t c hd" style="left:670.7px;top:303px;width:29.5px">C.</div>
<div class="t c hd" style="left:700.2px;top:303px;width:29.9px">Ş.</div>
<div class="t c hd" style="left:730.1px;top:303px;width:30px">B.</div>
<div class="t c wn" style="left:538.1px;top:319px;width:13px">22</div>
<div class="t c dn" style="left:611.4px;top:319px;width:29.8px">1</div>
<div class="t c dn" style="left:641.2px;top:319px;width:29.5px">2</div>
<div class="t c dn" style="left:670.7px;top:319px;width:29.5px">3</div>
<div class="t c dn" style="left:700.2px;top:319px;width:29.9px">4</div>
<div class="t c dn" style="left:730.1px;top:319px;width:30px">5</div>
<div class="t c wn" style="left:538.1px;top:332px;width:13px">23</div>
<div class="t c dn" style="left:551.1px;top:332px;width:30.4px">6</div>
<div class="t c dn" style="left:581.5px;top:332px;width:29.9px">7</div>
<div class="t c dn" style="left:611.4px;top:332px;width:29.8px">8</div>
<div class="t c dn" style="left:641.2px;top:332px;width:29.5px">9</div>
<div class="t c dn" style="left:670.7px;top:332px;width:29.5px">10</div>
<div class="t c dn" style="left:700.2px;top:332px;width:29.9px">11</div>
<div class="t c dn" style="left:730.1px;top:332px;width:30px">12</div>
<div class="t c wn" style="left:538.1px;top:345px;width:13px">24</div>
<div class="t c dn" style="left:551.1px;top:345px;width:30.4px">13</div>
<div class="t c dn" style="left:581.5px;top:345px;width:29.9px">14</div>
<div class="t c dn" style="left:611.4px;top:345px;width:29.8px">15</div>
<div class="t c dn" style="left:641.2px;top:345px;width:29.5px">16</div>
<div class="t c dn" style="left:670.7px;top:345px;width:29.5px">17</div>
<div class="t c dn" style="left:700.2px;top:345px;width:29.9px">18</div>
<div class="t c dn" style="left:730.1px;top:345px;width:30px">19</div>
<div class="t c wn" style="left:538.1px;top:358px;width:13px">25</div>
<div class="t c dn" style="left:551.1px;top:358px;width:30.4px">20</div>
<div class="t c dn" style="left:581.5px;top:358px;width:29.9px">21</div>
<div class="t c dn" style="left:611.4px;top:358px;width:29.8px">22</div>
<div class="t c dn" style="left:641.2px;top:358px;width:29.5px">23</div>
<div class="t c dn" style="left:670.7px;top:358px;width:29.5px">24</div>
<div class="t c dn" style="left:700.2px;top:358px;width:29.9px">25</div>
<div class="t c dn" style="left:730.1px;top:358px;width:30px">26</div>
<div class="t c wn" style="left:538.1px;top:371px;width:13px">26</div>
<div class="t c dn" style="left:551.1px;top:371px;width:30.4px">27</div>
<div class="t c dn" style="left:581.5px;top:371px;width:29.9px">28</div>
<div class="t c dn" style="left:611.4px;top:371px;width:29.8px">29</div>
<div class="t c dn" style="left:641.2px;top:371px;width:29.5px">30</div>
<div class="t st" style="left:533.4px;top:406px">Təqvim günləri</div>
<div class="t st" style="left:723.8px;top:406px">30</div>
<div class="t st" style="left:533.4px;top:420px">İş günləri</div>
<div class="t st" style="left:723.8px;top:420px">20</div>
<div class="t st" style="left:533.4px;top:434px">İstirahət günləri</div>
<div class="t st" style="left:723.8px;top:434px">10</div>
<div class="t st" style="left:533.4px;top:448px">Həftədə 40 saat</div>
<div class="t st" style="left:723.8px;top:448px">160</div>
<div class="t st" style="left:533.4px;top:462px">Həftədə 36 saat</div>
<div class="t st" style="left:723.8px;top:462px">144</div>
<div class="t st" style="left:533.4px;top:476px">Həftədə 24 saat</div>
<div class="t st" style="left:723.8px;top:476px">96</div>
<div class="t c mt" style="left:66px;top:498px;width:222px">İyul</div>
<div class="t c hs" style="left:66px;top:518px;width:13px">#</div>
<div class="t c hd" style="left:79px;top:517px;width:30.4px">B.E.</div>
<div class="t c hd" style="left:109.4px;top:517px;width:29.9px">Ç.A.</div>
<div class="t c hd" style="left:139.3px;top:517px;width:29.8px">Ç.</div>
<div class="t c hd" style="left:169.1px;top:517px;width:29.5px">C.A.</div>
<div class="t c hd" style="left:198.6px;top:517px;width:29.5px">C.</div>
<div class="t c hd" style="left:228.1px;top:517px;width:29.9px">Ş.</div>
<div class="t c hd" style="left:258px;top:517px;width:30px">B.</div>
<div class="t c wn" style="left:66px;top:534px;width:13px">26</div>
<div class="t c dn" style="left:198.6px;top:534px;width:29.5px">1</div>
<div class="t c dn" style="left:228.1px;top:534px;width:29.9px">2</div>
<div class="t c dn" style="left:258px;top:534px;width:30px">3</div>
<div class="t c wn" style="left:66px;top:547px;width:13px">27</div>
<div class="t c dn" style="left:79px;top:547px;width:30.4px">4</div>
<div class="t c dn" style="left:109.4px;top:547px;width:29.9px">5</div>
<div class="t c dn" style="left:139.3px;top:547px;width:29.8px">6</div>
<div class="t c dn" style="left:169.1px;top:547px;width:29.5px">7</div>
<div class="t c dn" style="left:198.6px;top:547px;width:29.5px">8</div>
<div class="t c dn" style="left:228.1px;top:547px;width:29.9px">9</div>
<div class="t c dn" style="left:258px;top:547px;width:30px">10</div>
<div class="t c wn" style="left:66px;top:560px;width:13px">28</div>
<div class="t c dn" style="left:79px;top:560px;width:30.4px">11</div>
<div class="t c dn" style="left:109.4px;top:560px;width:29.9px">12</div>
<div class="t c dn" style="left:139.3px;top:560px;width:29.8px">13</div>
<div class="t c dn" style="left:169.1px;top:560px;width:29.5px">14</div>
<div class="t c dn" style="left:198.6px;top:560px;width:29.5px">15</div>
<div class="t c dn" style="left:228.1px;top:560px;width:29.9px">16</div>
<div class="t c dn" style="left:258px;top:560px;width:30px">17</div>
<div class="t c wn" style="left:66px;top:573px;width:13px">29</div>
<div class="t c dn" style="left:79px;top:573px;width:30.4px">18</div>
<div class="t c dn" style="left:109.4px;top:573px;width:29.9px">19</div>
<div class="t c dn" style="left:139.3px;top:573px;width:29.8px">20</div>
<div class="t c dn" style="left:169.1px;top:573px;width:29.5px">21</div>
<div class="t c dn" style="left:198.6px;top:573px;width:29.5px">22</div>
<div class="t c dn" style="left:228.1px;top:573px;width:29.9px">23</div>
<div class="t c dn" style="left:258px;top:573px;width:30px">24</div>
<div class="t c wn" style="left:66px;top:586px;width:13px">30</div>
<div class="t c dn" style="left:79px;top:586px;width:30.4px">25</div>
<div class="t c dn" style="left:109.4px;top:586px;width:29.9px">26</div>
<div class="t c dn" style="left:139.3px;top:586px;width:29.8px">27</div>
<div class="t c dn" style="left:169.1px;top:586px;width:29.5px">28</div>
<div class="t c dn" style="left:198.6px;top:586px;width:29.5px">29</div>
<div class="t c dn" style="left:228.1px;top:586px;width:29.9px">30</div>
<div class="t c dn" style="left:258px;top:586px;width:30px">31</div>
<div class="t st" style="left:61.3px;top:620px">Təqvim günləri</div>
<div class="t st" style="left:251.7px;top:620px">31</div>
<div class="t st" style="left:61.3px;top:634px">İş günləri</div>
<div class="t st" style="left:251.7px;top:634px">20</div>
<div class="t st" style="left:61.3px;top:648px">İstirahət günləri</div>
<div class="t st" style="left:251.7px;top:648px">11</div>
<div class="t st" style="left:61.3px;top:662px">Həftədə 40 saat</div>
<div class="t st" style="left:251.7px;top:662px">160</div>
<div class="t st" style="left:61.3px;top:676px">Həftədə 36 saat</div>
<div class="t st" style="left:251.7px;top:676px">144</div>
<div class="t st" style="left:61.3px;top:690px">Həftədə 24 saat</div>
<div class="t st" style="left:251.7px;top:690px">96</div>
<div class="t c mt" style="left:302.05px;top:498px;width:222px">Avqust</div>
<div class="t c hs" style="left:302.05px;top:518px;width:13px">#</div>
<div class="t c hd" style="left:315.05px;top:517px;width:30.4px">B.E.</div>
<div class="t c hd" style="left:345.45px;top:517px;width:29.9px">Ç.A.</div>
<div class="t c hd" style="left:375.35px;top:517px;width:29.8px">Ç.</div>
<div class="t c hd" style="left:405.15px;top:517px;width:29.5px">C.A.</div>
<div class="t c hd" style="left:434.65px;top:517px;width:29.5px">C.</div>
<div class="t c hd" style="left:464.15px;top:517px;width:29.9px">Ş.</div>
<div class="t c hd" style="left:494.05px;top:517px;width:30px">B.</div>
<div class="t c wn" style="left:302.05px;top:534px;width:13px">31</div>
<div class="t c dn" style="left:315.05px;top:534px;width:30.4px">1</div>
<div class="t c dn" style="left:345.45px;top:534px;width:29.9px">2</div>
<div class="t c dn" style="left:375.35px;top:534px;width:29.8px">3</div>
<div class="t c dn" style="left:405.15px;top:534px;width:29.5px">4</div>
<div class="t c dn" style="left:434.65px;top:534px;width:29.5px">5</div>
<div class="t c dn" style="left:464.15px;top:534px;width:29.9px">6</div>
<div class="t c dn" style="left:494.05px;top:534px;width:30px">7</div>
<div class="t c wn" style="left:302.05px;top:547px;width:13px">32</div>
<div class="t c dn" style="left:315.05px;top:547px;width:30.4px">8</div>
<div class="t c dn" style="left:345.45px;top:547px;width:29.9px">9</div>
<div class="t c dn" style="left:375.35px;top:547px;width:29.8px">10</div>
<div class="t c dn" style="left:405.15px;top:547px;width:29.5px">11</div>
<div class="t c dn" style="left:434.65px;top:547px;width:29.5px">12</div>
<div class="t c dn" style="left:464.15px;top:547px;width:29.9px">13</div>
<div class="t c dn" style="left:494.05px;top:547px;width:30px">14</div>
<div class="t c wn" style="left:302.05px;top:560px;width:13px">33</div>
<div class="t c dn" style="left:315.05px;top:560px;width:30.4px">15</div>
<div class="t c dn" style="left:345.45px;top:560px;width:29.9px">16</div>
<div class="t c dn" style="left:375.35px;top:560px;width:29.8px">17</div>
<div class="t c dn" style="left:405.15px;top:560px;width:29.5px">18</div>
<div class="t c dn" style="left:434.65px;top:560px;width:29.5px">19</div>
<div class="t c dn" style="left:464.15px;top:560px;width:29.9px">20</div>
<div class="t c dn" style="left:494.05px;top:560px;width:30px">21</div>
<div class="t c wn" style="left:302.05px;top:573px;width:13px">34</div>
<div class="t c dn" style="left:315.05px;top:573px;width:30.4px">22</div>
<div class="t c dn" style="left:345.45px;top:573px;width:29.9px">23</div>
<div class="t c dn" style="left:375.35px;top:573px;width:29.8px">24</div>
<div class="t c dn" style="left:405.15px;top:573px;width:29.5px">25</div>
<div class="t c dn" style="left:434.65px;top:573px;width:29.5px">26</div>
<div class="t c dn" style="left:464.15px;top:573px;width:29.9px">27</div>
<div class="t c dn" style="left:494.05px;top:573px;width:30px">28</div>
<div class="t c wn" style="left:302.05px;top:586px;width:13px">35</div>
<div class="t c dn" style="left:315.05px;top:586px;width:30.4px">29</div>
<div class="t c dn" style="left:345.45px;top:586px;width:29.9px">30</div>
<div class="t c dn" style="left:375.35px;top:586px;width:29.8px">31</div>
<div class="t st" style="left:297.35px;top:620px">Təqvim günləri</div>
<div class="t st" style="left:475.55px;top:620px">31</div>
<div class="t st" style="left:297.35px;top:634px">İş günləri</div>
<div class="t st" style="left:475.55px;top:634px">22</div>
<div class="t st" style="left:297.35px;top:648px">İstirahət günləri</div>
<div class="t st" style="left:475.55px;top:648px">9</div>
<div class="t st" style="left:297.35px;top:662px">Həftədə 40 saat</div>
<div class="t st" style="left:475.55px;top:662px">176</div>
<div class="t st" style="left:297.35px;top:676px">Həftədə 36 saat</div>
<div class="t st" style="left:475.55px;top:676px">158.4</div>
<div class="t st" style="left:297.35px;top:690px">Həftədə 24 saat</div>
<div class="t st" style="left:475.55px;top:690px">105.6</div>
<div class="t c mt" style="left:538.1px;top:498px;width:222px">Sentyabr</div>
<div class="t c hs" style="left:538.1px;top:518px;width:13px">#</div>
<div class="t c hd" style="left:551.1px;top:517px;width:30.4px">B.E.</div>
<div class="t c hd" style="left:581.5px;top:517px;width:29.9px">Ç.A.</div>
<div class="t c hd" style="left:611.4px;top:517px;width:29.8px">Ç.</div>
<div class="t c hd" style="left:641.2px;top:517px;width:29.5px">C.A.</div>
<div class="t c hd" style="left:670.7px;top:517px;width:29.5px">C.</div>
<div class="t c hd" style="left:700.2px;top:517px;width:29.9px">Ş.</div>
<div class="t c hd" style="left:730.1px;top:517px;width:30px">B.</div>
<div class="t c wn" style="left:538.1px;top:534px;width:13px">35</div>
<div class="t c dn" style="left:641.2px;top:534px;width:29.5px">1</div>
<div class="t c dn" style="left:670.7px;top:534px;width:29.5px">2</div>
<div class="t c dn" style="left:700.2px;top:534px;width:29.9px">3</div>
<div class="t c dn" style="left:730.1px;top:534px;width:30px">4</div>
<div class="t c wn" style="left:538.1px;top:547px;width:13px">36</div>
<div class="t c dn" style="left:551.1px;top:547px;width:30.4px">5</div>
<div class="t c dn" style="left:581.5px;top:547px;width:29.9px">6</div>
<div class="t c dn" style="left:611.4px;top:547px;width:29.8px">7</div>
<div class="t c dn" style="left:641.2px;top:547px;width:29.5px">8</div>
<div class="t c dn" style="left:670.7px;top:547px;width:29.5px">9</div>
<div class="t c dn" style="left:700.2px;top:547px;width:29.9px">10</div>
<div class="t c dn" style="left:730.1px;top:547px;width:30px">11</div>
<div class="t c wn" style="left:538.1px;top:560px;width:13px">37</div>
<div class="t c dn" style="left:551.1px;top:560px;width:30.4px">12</div>
<div class="t c dn" style="left:581.5px;top:560px;width:29.9px">13</div>
<div class="t c dn" style="left:611.4px;top:560px;width:29.8px">14</div>
<div class="t c dn" style="left:641.2px;top:560px;width:29.5px">15</div>
<div class="t c dn" style="left:670.7px;top:560px;width:29.5px">16</div>
<div class="t c dn" style="left:700.2px;top:560px;width:29.9px">17</div>
<div class="t c dn" style="left:730.1px;top:560px;width:30px">18</div>
<div class="t c wn" style="left:538.1px;top:573px;width:13px">38</div>
<div class="t c dn" style="left:551.1px;top:573px;width:30.4px">19</div>
<div class="t c dn" style="left:581.5px;top:573px;width:29.9px">20</div>
<div class="t c dn" style="left:611.4px;top:573px;width:29.8px">21</div>
<div class="t c dn" style="left:641.2px;top:573px;width:29.5px">22</div>
<div class="t c dn" style="left:670.7px;top:573px;width:29.5px">23</div>
<div class="t c dn" style="left:700.2px;top:573px;width:29.9px">24</div>
<div class="t c dn" style="left:730.1px;top:573px;width:30px">25</div>
<div class="t c wn" style="left:538.1px;top:586px;width:13px">39</div>
<div class="t c dn" style="left:551.1px;top:586px;width:30.4px">26</div>
<div class="t c dn" style="left:581.5px;top:586px;width:29.9px">27</div>
<div class="t c dn" style="left:611.4px;top:586px;width:29.8px">28</div>
<div class="t c dn" style="left:641.2px;top:586px;width:29.5px">29</div>
<div class="t c dn" style="left:670.7px;top:586px;width:29.5px">30</div>
<div class="t st" style="left:533.4px;top:620px">Təqvim günləri</div>
<div class="t st" style="left:711.6px;top:620px">30</div>
<div class="t st" style="left:533.4px;top:634px">İş günləri</div>
<div class="t st" style="left:711.6px;top:634px">22</div>
<div class="t st" style="left:533.4px;top:648px">İstirahət günləri</div>
<div class="t st" style="left:711.6px;top:648px">8</div>
<div class="t st" style="left:533.4px;top:662px">Həftədə 40 saat</div>
<div class="t st" style="left:711.6px;top:662px">176</div>
<div class="t st" style="left:533.4px;top:676px">Həftədə 36 saat</div>
<div class="t st" style="left:711.6px;top:676px">158.4</div>
<div class="t st" style="left:533.4px;top:690px">Həftədə 24 saat</div>
<div class="t st" style="left:711.6px;top:690px">105.6</div>
<div class="t c mt" style="left:66px;top:713px;width:222px">Oktyabr</div>
<div class="t c hs" style="left:66px;top:733px;width:13px">#</div>
<div class="t c hd" style="left:79px;top:732px;width:30.4px">B.E.</div>
<div class="t c hd" style="left:109.4px;top:732px;width:29.9px">Ç.A.</div>
<div class="t c hd" style="left:139.3px;top:732px;width:29.8px">Ç.</div>
<div class="t c hd" style="left:169.1px;top:732px;width:29.5px">C.A.</div>
<div class="t c hd" style="left:198.6px;top:732px;width:29.5px">C.</div>
<div class="t c hd" style="left:228.1px;top:732px;width:29.9px">Ş.</div>
<div class="t c hd" style="left:258px;top:732px;width:30px">B.</div>
<div class="t c wn" style="left:66px;top:748px;width:13px">39</div>
<div class="t c dn" style="left:228.1px;top:748px;width:29.9px">1</div>
<div class="t c dn" style="left:258px;top:748px;width:30px">2</div>
<div class="t c wn" style="left:66px;top:761px;width:13px">40</div>
<div class="t c dn" style="left:79px;top:761px;width:30.4px">3</div>
<div class="t c dn" style="left:109.4px;top:761px;width:29.9px">4</div>
<div class="t c dn" style="left:139.3px;top:761px;width:29.8px">5</div>
<div class="t c dn" style="left:169.1px;top:761px;width:29.5px">6</div>
<div class="t c dn" style="left:198.6px;top:761px;width:29.5px">7</div>
<div class="t c dn" style="left:228.1px;top:761px;width:29.9px">8</div>
<div class="t c dn" style="left:258px;top:761px;width:30px">9</div>
<div class="t c wn" style="left:66px;top:774px;width:13px">41</div>
<div class="t c dn" style="left:79px;top:774px;width:30.4px">10</div>
<div class="t c dn" style="left:109.4px;top:774px;width:29.9px">11</div>
<div class="t c dn" style="left:139.3px;top:774px;width:29.8px">12</div>
<div class="t c dn" style="left:169.1px;top:774px;width:29.5px">13</div>
<div class="t c dn" style="left:198.6px;top:774px;width:29.5px">14</div>
<div class="t c dn" style="left:228.1px;top:774px;width:29.9px">15</div>
<div class="t c dn" style="left:258px;top:774px;width:30px">16</div>
<div class="t c wn" style="left:66px;top:787px;width:13px">42</div>
<div class="t c dn" style="left:79px;top:787px;width:30.4px">17</div>
<div class="t c dn" style="left:109.4px;top:787px;width:29.9px">18</div>
<div class="t c dn" style="left:139.3px;top:787px;width:29.8px">19</div>
<div class="t c dn" style="left:169.1px;top:787px;width:29.5px">20</div>
<div class="t c dn" style="left:198.6px;top:787px;width:29.5px">21</div>
<div class="t c dn" style="left:228.1px;top:787px;width:29.9px">22</div>
<div class="t c dn" style="left:258px;top:787px;width:30px">23</div>
<div class="t c wn" style="left:66px;top:800px;width:13px">43</div>
<div class="t c dn" style="left:79px;top:800px;width:30.4px">24</div>
<div class="t c dn" style="left:109.4px;top:800px;width:29.9px">25</div>
<div class="t c dn" style="left:139.3px;top:800px;width:29.8px">26</div>
<div class="t c dn" style="left:169.1px;top:800px;width:29.5px">27</div>
<div class="t c dn" style="left:198.6px;top:800px;width:29.5px">28</div>
<div class="t c dn" style="left:228.1px;top:800px;width:29.9px">29</div>
<div class="t c dn" style="left:258px;top:800px;width:30px">30</div>
<div class="t c wn" style="left:66px;top:814px;width:13px">44</div>
<div class="t c dn" style="left:79px;top:814px;width:30.4px">31</div>
<div class="t st" style="left:61.3px;top:834px">Təqvim günləri</div>
<div class="t st" style="left:239.5px;top:834px">31</div>
<div class="t st" style="left:61.3px;top:848px">İş günləri</div>
<div class="t st" style="left:239.5px;top:848px">21</div>
<div class="t st" style="left:61.3px;top:862px">İstirahət günləri</div>
<div class="t st" style="left:239.5px;top:862px">10</div>
<div class="t st" style="left:61.3px;top:876px">Həftədə 40 saat</div>
<div class="t st" style="left:239.5px;top:876px">168</div>
<div class="t st" style="left:61.3px;top:890px">Həftədə 36 saat</div>
<div class="t st" style="left:239.5px;top:890px">151.2</div>
<div class="t st" style="left:61.3px;top:904px">Həftədə 24 saat</div>
<div class="t st" style="left:239.5px;top:904px">100.8</div>
<div class="t c mt" style="left:302.05px;top:713px;width:222px">Noyabr</div>
<div class="t c hs" style="left:302.05px;top:733px;width:13px">#</div>
<div class="t c hd" style="left:315.05px;top:732px;width:30.4px">B.E.</div>
<div class="t c hd" style="left:345.45px;top:732px;width:29.9px">Ç.A.</div>
<div class="t c hd" style="left:375.35px;top:732px;width:29.8px">Ç.</div>
<div class="t c hd" style="left:405.15px;top:732px;width:29.5px">C.A.</div>
<div class="t c hd" style="left:434.65px;top:732px;width:29.5px">C.</div>
<div class="t c hd" style="left:464.15px;top:732px;width:29.9px">Ş.</div>
<div class="t c hd" style="left:494.05px;top:732px;width:30px">B.</div>
<div class="t c wn" style="left:302.05px;top:748px;width:13px">44</div>
<div class="t c dn" style="left:345.45px;top:748px;width:29.9px">1</div>
<div class="t c dn" style="left:375.35px;top:748px;width:29.8px">2</div>
<div class="t c dn" style="left:405.15px;top:748px;width:29.5px">3</div>
<div class="t c dn" style="left:434.65px;top:748px;width:29.5px">4</div>
<div class="t c dn" style="left:464.15px;top:748px;width:29.9px">5</div>
<div class="t c dn" style="left:494.05px;top:748px;width:30px">6</div>
<div class="t c wn" style="left:302.05px;top:761px;width:13px">45</div>
<div class="t c dn" style="left:315.05px;top:761px;width:30.4px">7</div>
<div class="t c dn" style="left:345.45px;top:761px;width:29.9px">8</div>
<div class="t c dn" style="left:375.35px;top:761px;width:29.8px">9</div>
<div class="t c dn" style="left:405.15px;top:761px;width:29.5px">10</div>
<div class="t c dn" style="left:434.65px;top:761px;width:29.5px">11</div>
<div class="t c dn" style="left:464.15px;top:761px;width:29.9px">12</div>
<div class="t c dn" style="left:494.05px;top:761px;width:30px">13</div>
<div class="t c wn" style="left:302.05px;top:774px;width:13px">46</div>
<div class="t c dn" style="left:315.05px;top:774px;width:30.4px">14</div>
<div class="t c dn" style="left:345.45px;top:774px;width:29.9px">15</div>
<div class="t c dn" style="left:375.35px;top:774px;width:29.8px">16</div>
<div class="t c dn" style="left:405.15px;top:774px;width:29.5px">17</div>
<div class="t c dn" style="left:434.65px;top:774px;width:29.5px">18</div>
<div class="t c dn" style="left:464.15px;top:774px;width:29.9px">19</div>
<div class="t c dn" style="left:494.05px;top:774px;width:30px">20</div>
<div class="t c wn" style="left:302.05px;top:787px;width:13px">47</div>
<div class="t c dn" style="left:315.05px;top:787px;width:30.4px">21</div>
<div class="t c dn" style="left:345.45px;top:787px;width:29.9px">22</div>
<div class="t c dn" style="left:375.35px;top:787px;width:29.8px">23</div>
<div class="t c dn" style="left:405.15px;top:787px;width:29.5px">24</div>
<div class="t c dn" style="left:434.65px;top:787px;width:29.5px">25</div>
<div class="t c dn" style="left:464.15px;top:787px;width:29.9px">26</div>
<div class="t c dn" style="left:494.05px;top:787px;width:30px">27</div>
<div class="t c wn" style="left:302.05px;top:800px;width:13px">48</div>
<div class="t c dn" style="left:315.05px;top:800px;width:30.4px">28</div>
<div class="t c dn" style="left:345.45px;top:800px;width:29.9px">29</div>
<div class="t c dn" style="left:375.35px;top:800px;width:29.8px">30</div>
<div class="t st" style="left:297.35px;top:835px">Təqvim günləri</div>
<div class="t st" style="left:487.75px;top:835px">30</div>
<div class="t st" style="left:297.35px;top:849px">İş günləri</div>
<div class="t st" style="left:487.75px;top:849px">20</div>
<div class="t st" style="left:297.35px;top:863px">İstirahət günləri</div>
<div class="t st" style="left:487.75px;top:863px">10</div>
<div class="t st" style="left:297.35px;top:877px">Həftədə 40 saat</div>
<div class="t st" style="left:487.75px;top:877px">160</div>
<div class="t st" style="left:297.35px;top:891px">Həftədə 36 saat</div>
<div class="t st" style="left:487.75px;top:891px">144</div>
<div class="t st" style="left:297.35px;top:905px">Həftədə 24 saat</div>
<div class="t st" style="left:487.75px;top:905px">96</div>
<div class="t c mt" style="left:538.1px;top:713px;width:222px">Dekabr</div>
<div class="t c hs" style="left:538.1px;top:733px;width:13px">#</div>
<div class="t c hd" style="left:551.1px;top:732px;width:30.4px">B.E.</div>
<div class="t c hd" style="left:581.5px;top:732px;width:29.9px">Ç.A.</div>
<div class="t c hd" style="left:611.4px;top:732px;width:29.8px">Ç.</div>
<div class="t c hd" style="left:641.2px;top:732px;width:29.5px">C.A.</div>
<div class="t c hd" style="left:670.7px;top:732px;width:29.5px">C.</div>
<div class="t c hd" style="left:700.2px;top:732px;width:29.9px">Ş.</div>
<div class="t c hd" style="left:730.1px;top:732px;width:30px">B.</div>
<div class="t c wn" style="left:538.1px;top:748px;width:13px">48</div>
<div class="t c dn" style="left:641.2px;top:748px;width:29.5px">1</div>
<div class="t c dn" style="left:670.7px;top:748px;width:29.5px">2</div>
<div class="t c dn" style="left:700.2px;top:748px;width:29.9px">3</div>
<div class="t c dn" style="left:730.1px;top:748px;width:30px">4</div>
<div class="t c wn" style="left:538.1px;top:761px;width:13px">49</div>
<div class="t c dn" style="left:551.1px;top:761px;width:30.4px">5</div>
<div class="t c dn" style="left:581.5px;top:761px;width:29.9px">6</div>
<div class="t c dn" style="left:611.4px;top:761px;width:29.8px">7</div>
<div class="t c dn" style="left:641.2px;top:761px;width:29.5px">8</div>
<div class="t c dn" style="left:670.7px;top:761px;width:29.5px">9</div>
<div class="t c dn" style="left:700.2px;top:761px;width:29.9px">10</div>
<div class="t c dn" style="left:730.1px;top:761px;width:30px">11</div>
<div class="t c wn" style="left:538.1px;top:774px;width:13px">50</div>
<div class="t c dn" style="left:551.1px;top:774px;width:30.4px">12</div>
<div class="t c dn" style="left:581.5px;top:774px;width:29.9px">13</div>
<div class="t c dn" style="left:611.4px;top:774px;width:29.8px">14</div>
<div class="t c dn" style="left:641.2px;top:774px;width:29.5px">15</div>
<div class="t c dn" style="left:670.7px;top:774px;width:29.5px">16</div>
<div class="t c dn" style="left:700.2px;top:774px;width:29.9px">17</div>
<div class="t c dn" style="left:730.1px;top:774px;width:30px">18</div>
<div class="t c wn" style="left:538.1px;top:787px;width:13px">51</div>
<div class="t c dn" style="left:551.1px;top:787px;width:30.4px">19</div>
<div class="t c dn" style="left:581.5px;top:787px;width:29.9px">20</div>
<div class="t c dn" style="left:611.4px;top:787px;width:29.8px">21</div>
<div class="t c dn" style="left:641.2px;top:787px;width:29.5px">22</div>
<div class="t c dn" style="left:670.7px;top:787px;width:29.5px">23</div>
<div class="t c dn" style="left:700.2px;top:787px;width:29.9px">24</div>
<div class="t c dn" style="left:730.1px;top:787px;width:30px">25</div>
<div class="t c wn" style="left:538.1px;top:800px;width:13px">52</div>
<div class="t c dn" style="left:551.1px;top:800px;width:30.4px">26</div>
<div class="t c dn" style="left:581.5px;top:800px;width:29.9px">27</div>
<div class="t c dn" style="left:611.4px;top:800px;width:29.8px">28</div>
<div class="t c dn" style="left:641.2px;top:800px;width:29.5px">29</div>
<div class="t c dn" style="left:670.7px;top:800px;width:29.5px">30</div>
<div class="t c dn" style="left:700.2px;top:800px;width:29.9px">31</div>
<div class="t st" style="left:533.4px;top:835px">Təqvim günləri</div>
<div class="t st" style="left:711.6px;top:835px">31</div>
<div class="t st" style="left:533.4px;top:849px">İş günləri</div>
<div class="t st" style="left:711.6px;top:849px">22</div>
<div class="t st" style="left:533.4px;top:863px">İstirahət günləri</div>
<div class="t st" style="left:711.6px;top:863px">9</div>
<div class="t st" style="left:533.4px;top:877px">Həftədə 40 saat</div>
<div class="t st" style="left:711.6px;top:877px">176</div>
<div class="t st" style="left:533.4px;top:891px">Həftədə 36 saat</div>
<div class="t st" style="left:711.6px;top:891px">158.4</div>
<div class="t st" style="left:533.4px;top:905px">Həftədə 24 saat</div>
<div class="t st" style="left:711.6px;top:905px">105.6</div>
<div class="t qh" style="left:59px;top:943px">1 dörddəbir</div>
<div class="t st" style="left:60.7px;top:958px">Təqvim günləri</div>
<div class="t st" style="left:163.2px;top:958px">90</div>
<div class="t st" style="left:60.7px;top:973px">İş günləri</div>
<div class="t st" style="left:163.2px;top:973px">64</div>
<div class="t st" style="left:60.7px;top:988px">İstirahət günləri</div>
<div class="t st" style="left:163.2px;top:988px">26</div>
<div class="t st" style="left:60.7px;top:1002px">Həftədə 40 saat</div>
<div class="t st" style="left:163.2px;top:1002px">512</div>
<div class="t st" style="left:60.7px;top:1017px">Həftədə 36 saat</div>
<div class="t st" style="left:163.2px;top:1017px">460.8</div>
<div class="t st" style="left:60.7px;top:1031px">Həftədə 24 saat</div>
<div class="t st" style="left:163.2px;top:1031px">307.2</div>
<div class="t qh" style="left:199.7px;top:943px">2 dörddəbir</div>
<div class="t st" style="left:201.4px;top:958px">Təqvim günləri</div>
<div class="t st" style="left:303.9px;top:958px">91</div>
<div class="t st" style="left:201.4px;top:973px">İş günləri</div>
<div class="t st" style="left:303.9px;top:973px">61</div>
<div class="t st" style="left:201.4px;top:988px">İstirahət günləri</div>
<div class="t st" style="left:303.9px;top:988px">30</div>
<div class="t st" style="left:201.4px;top:1002px">Həftədə 40 saat</div>
<div class="t st" style="left:303.9px;top:1002px">488</div>
<div class="t st" style="left:201.4px;top:1017px">Həftədə 36 saat</div>
<div class="t st" style="left:303.9px;top:1017px">439.2</div>
<div class="t st" style="left:201.4px;top:1031px">Həftədə 24 saat</div>
<div class="t st" style="left:303.9px;top:1031px">292.8</div>
<div class="t qh" style="left:340.4px;top:943px">3 dörddəbir</div>
<div class="t st" style="left:342.1px;top:958px">Təqvim günləri</div>
<div class="t st" style="left:444.6px;top:958px">92</div>
<div class="t st" style="left:342.1px;top:973px">İş günləri</div>
<div class="t st" style="left:444.6px;top:973px">64</div>
<div class="t st" style="left:342.1px;top:988px">İstirahət günləri</div>
<div class="t st" style="left:444.6px;top:988px">28</div>
<div class="t st" style="left:342.1px;top:1002px">Həftədə 40 saat</div>
<div class="t st" style="left:444.6px;top:1002px">512</div>
<div class="t st" style="left:342.1px;top:1017px">Həftədə 36 saat</div>
<div class="t st" style="left:444.6px;top:1017px">460.8</div>
<div class="t st" style="left:342.1px;top:1031px">Həftədə 24 saat</div>
<div class="t st" style="left:444.6px;top:1031px">307.2</div>
<div class="t qh" style="left:481.1px;top:943px">4 dörddəbir</div>
<div class="t st" style="left:482.8px;top:958px">Təqvim günləri</div>
<div class="t st" style="left:585.3px;top:958px">92</div>
<div class="t st" style="left:482.8px;top:973px">İş günləri</div>
<div class="t st" style="left:585.3px;top:973px">63</div>
<div class="t st" style="left:482.8px;top:988px">İstirahət günləri</div>
<div class="t st" style="left:585.3px;top:988px">29</div>
<div class="t st" style="left:482.8px;top:1002px">Həftədə 40 saat</div>
<div class="t st" style="left:585.3px;top:1002px">504</div>
<div class="t st" style="left:482.8px;top:1017px">Həftədə 36 saat</div>
<div class="t st" style="left:585.3px;top:1017px">453.6</div>
<div class="t st" style="left:482.8px;top:1031px">Həftədə 24 saat</div>
<div class="t st" style="left:585.3px;top:1031px">302.4</div>
<div class="t qh" style="left:621.8px;top:943px">1 il</div>
<div class="t st" style="left:623.5px;top:958px">Təqvim günləri</div>
<div class="t st" style="left:725.1px;top:958px">365</div>
<div class="t st" style="left:623.5px;top:973px">İş günləri</div>
<div class="t st" style="left:725.1px;top:973px">252</div>
<div class="t st" style="left:623.5px;top:988px">İstirahət günləri</div>
<div class="t st" style="left:725.1px;top:988px">113</div>
<div class="t st" style="left:623.5px;top:1002px">Həftədə 40 saat</div>
<div class="t st" style="left:725.1px;top:1002px">2016</div>
<div class="t st" style="left:623.5px;top:1017px">Həftədə 36 saat</div>
<div class="t st" style="left:725.1px;top:1017px">1814.4</div>
<div class="t st" style="left:623.5px;top:1031px">Həftədə 24 saat</div>
<div class="t st" style="left:725.1px;top:1031px">1209.6</div>
</div>
</body></html>
